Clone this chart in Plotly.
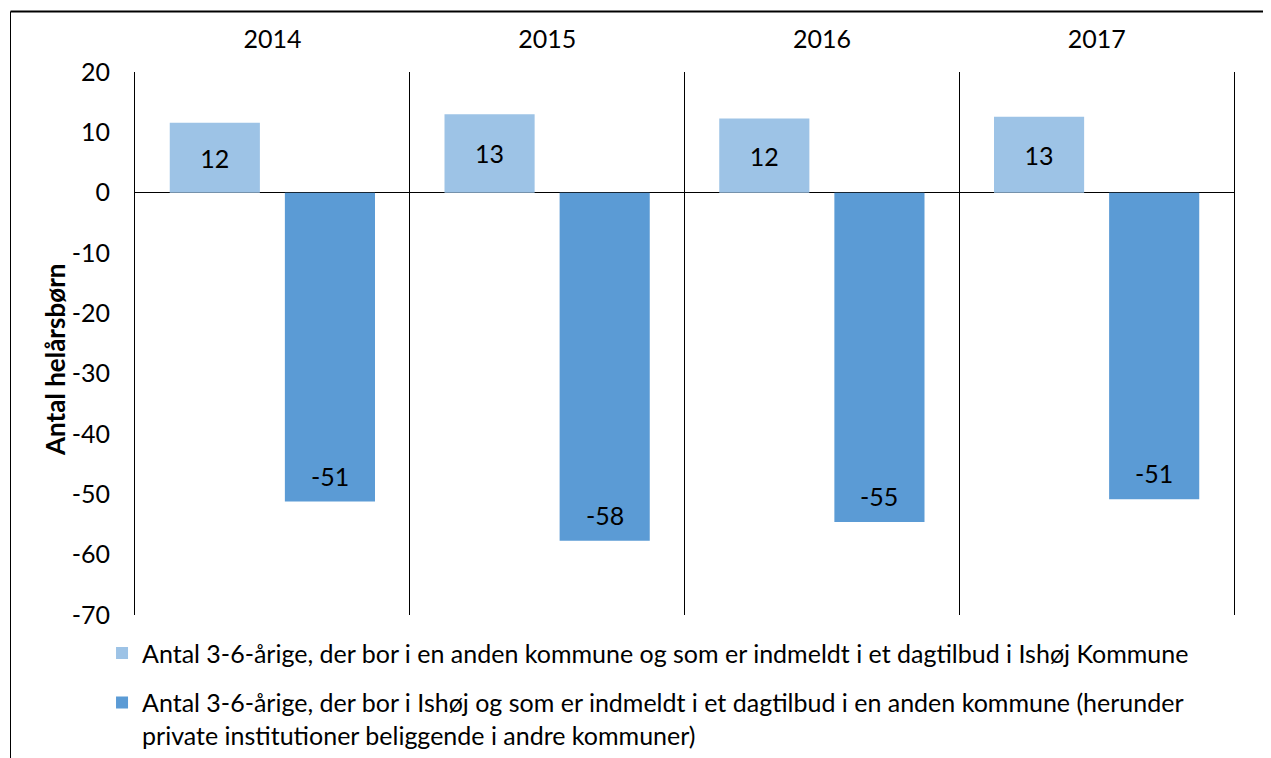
import plotly.graph_objects as go

years = ["2014", "2015", "2016", "2017"]
series1_name = "Antal 3-6-årige, der bor i en anden kommune og som er indmeldt i et dagtilbud i Ishøj Kommune"
series2_name = ("Antal 3-6-årige, der bor i Ishøj og som er indmeldt i et dagtilbud i en anden kommune (herunder"
                "<br>private institutioner beliggende i andre kommuner)")
series1_values = [11.6, 13.0, 12.3, 12.6]
series2_values = [-51.2, -57.7, -54.6, -50.8]
ytick_vals = [20, 10, 0, -10, -20, -30, -40, -50, -60, -70]
ytick_text = ["20", "10", "0", "-10", "-20", "-30", "-40", "-50", "-60", "-70"]
y_title = "Antal helårsbørn"

FONT = "Lato"
FS = 25
W, H = 1263, 750
ML, MR, MT, MB = 127, 37, 64, 143
PW, PH = W - ML - MR, H - MT - MB

fig = go.Figure()
fig.add_trace(go.Bar(
    x=years, y=series1_values, name=series1_name, legendgroup="s1",
    marker=dict(color="#9DC3E6", line=dict(width=0)),
    text=[f"{v:.0f}" for v in series1_values],
    textposition="inside", insidetextanchor="middle",
    textfont=dict(family=FONT, size=FS, color="black"),
    hoverinfo="skip",
))
fig.add_trace(go.Bar(
    x=years, y=series2_values, name=series2_name, legendgroup="s2",
    marker=dict(color="#5B9BD5", line=dict(width=0)),
    hoverinfo="skip",
))

# data labels for the second series, "inside end" style
bar_offset_px = 57.5
for i, v in enumerate(series2_values):
    fig.add_annotation(
        x=i, y=v, xref="x", yref="y", text=f"{v:.0f}", showarrow=False,
        xshift=bar_offset_px, yshift=26, yanchor="middle",
        font=dict(family=FONT, size=FS, color="black"),
    )

# y-axis title
fig.add_annotation(
    x=(47 - ML) / PW, y=(H - MB - 352) / PH, xref="paper", yref="paper",
    text=f"<b>{y_title}</b>", textangle=-90, showarrow=False,
    xanchor="center", yanchor="middle",
    font=dict(family=FONT, size=26, color="black"),
)

fig.update_layout(
    width=W, height=H,
    margin=dict(l=ML, r=MR, t=MT, b=MB, autoexpand=False),
    paper_bgcolor="white", plot_bgcolor="white",
    font=dict(family=FONT, size=FS, color="black"),
    barmode="group", bargap=0.162, bargroupgap=0.217,
    showlegend=True,
    legend=dict(
        x=-0.03, xanchor="left", y=-0.028, yanchor="top",
        orientation="v", traceorder="grouped", valign="top",
        font=dict(family=FONT, size=FS, color="black"),
        bgcolor="rgba(0,0,0,0)", tracegroupgap=14,
    ),
)

fig.update_xaxes(
    side="top", type="category", range=[-0.5, 3.5],
    tickson="boundaries", showgrid=True, gridcolor="black", gridwidth=1,
    ticks="", showline=False, zeroline=False, tickangle=0,
    ticklabelstandoff=18,
    tickfont=dict(family=FONT, size=FS, color="black"),
)
fig.update_yaxes(
    range=[-70, 20], tickvals=ytick_vals, ticktext=ytick_text,
    showgrid=False, zeroline=True, zerolinecolor="black", zerolinewidth=1,
    showline=True, linecolor="black", linewidth=1, mirror=True,
    ticks="", ticklabelstandoff=19,
    tickfont=dict(family=FONT, size=FS, color="black"),
)

# outer frame (decorative border of the original figure)
frame_top = (H - MB - 3.5) / PH
frame_left = (2.5 - ML) / PW
fig.add_shape(type="line", xref="paper", yref="paper",
              x0=frame_left, x1=1.2, y0=frame_top, y1=frame_top,
              line=dict(color="black", width=2))
fig.add_shape(type="line", xref="paper", yref="paper",
              x0=frame_left, x1=frame_left, y0=frame_top, y1=-0.4,
              line=dict(color="black", width=1))

fig.write_html("out.html")
